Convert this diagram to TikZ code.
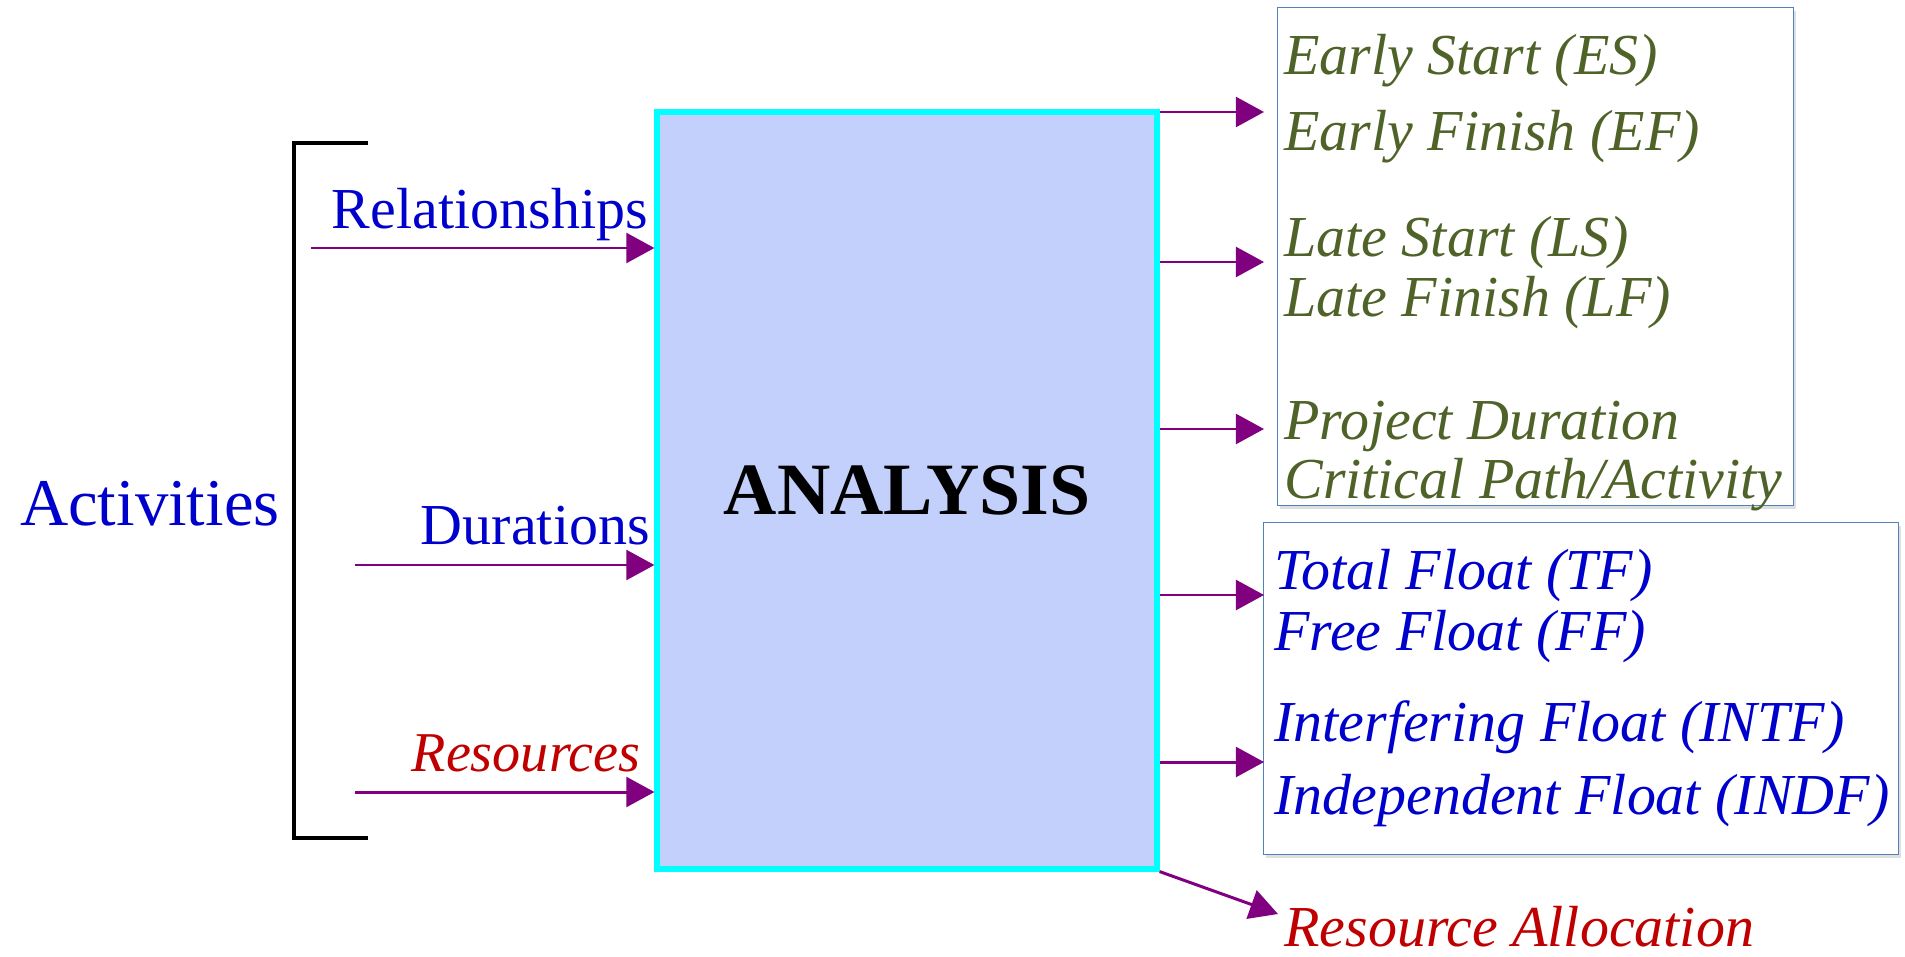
\documentclass[tikz,border=0pt]{standalone}
\usepackage{fontspec}
\setmainfont{Liberation Serif}
\usetikzlibrary{arrows.meta,positioning,shadows}

\definecolor{inblue}{RGB}{0,0,204}
\definecolor{outgreen}{RGB}{79,98,40}
\definecolor{resred}{RGB}{192,0,0}
\definecolor{flowpurple}{RGB}{128,0,128}
\definecolor{boxfill}{RGB}{196,208,252}
\definecolor{boxline}{RGB}{79,129,189}
\definecolor{anaborder}{RGB}{0,255,255}

\tikzset{
  flow/.style={draw=flowpurple, line width=1.7pt, -{Triangle[length=16pt,width=17pt]}},
  outbox/.style={draw=boxline, line width=0.8pt, fill=white, anchor=north west,
    drop shadow={opacity=0.25, shadow xshift=1.5pt, shadow yshift=-2pt}},
  intext/.style={font=\fontsize{33}{39}\selectfont, inner sep=0pt, anchor=base east},
  outtext/.style={font=\fontsize{33}{40}\selectfont\itshape, inner sep=0pt, anchor=base west}
}

\begin{document}
\begin{tikzpicture}[x=0.02cm, y=-0.02cm]
\useasboundingbox (0,0) rectangle (1905,956);

% analysis block
\node[draw=anaborder, line width=3pt, fill=boxfill, minimum width=10cm, minimum height=15.14cm,
      font=\fontsize{42}{50}\selectfont\bfseries] (ana) at (907,490.5) {ANALYSIS};

% inputs
\draw[line width=2.8pt] (368,143) -| (294,838) -- (368,838);
\node[anchor=base east, inner sep=0pt, text=inblue, font=\fontsize{38}{45}\selectfont] (act) at (280,525) {Activities};

\coordinate (rel_in) at (311,248);
\coordinate (dur_in) at (355,565);
\coordinate (res_in) at (355,792);
\node[intext, text=inblue] (rel) at (648,228) {Relationships};
\node[intext, text=inblue] (dur) at (650,544) {Durations};
\node[intext, text=resred, font=\fontsize{32}{38}\selectfont\itshape] (res) at (641,771) {Resources};
\path (rel_in) edge[flow] (rel_in -| ana.west)
      (dur_in) edge[flow] (dur_in -| ana.west)
      (res_in) edge[flow] (res_in -| ana.west);

% outputs
\node[outbox, minimum width=10.32cm, minimum height=9.96cm] (times) at (1277,7) {};
\node[outbox, minimum width=12.7cm, minimum height=6.64cm] (floats) at (1263,522) {};

\node[outtext, text=outgreen] (es) at (1284,75) {Early Start (ES)};
\node[outtext, text=outgreen] (ef) at (1284,151) {Early Finish (EF)};
\node[outtext, text=outgreen] (ls) at (1284,256) {Late Start (LS)};
\node[outtext, text=outgreen] (lf) at (1284,316) {Late Finish (LF)};
\node[outtext, text=outgreen] (pd) at (1284,439) {Project Duration};
\node[outtext, text=outgreen] (cp) at (1284,498) {Critical Path/Activity};
\node[outtext, text=inblue] (tf) at (1274,589) {Total Float (TF)};
\node[outtext, text=inblue] (ff) at (1274,650) {Free Float (FF)};
\node[outtext, text=inblue] (intf) at (1274,741) {Interfering Float (INTF)};
\node[outtext, text=inblue] (indf) at (1274,814) {Independent Float (INDF)};
\node[outtext, text=resred] (alloc) at (1284,946) {Resource Allocation};

\coordinate (es_out) at (1264,112);
\coordinate (ls_out) at (1264,262);
\coordinate (pd_out) at (1264,429);
\coordinate (tf_out) at (1264,595);
\coordinate (intf_out) at (1264,762);
\coordinate (alloc_out) at (1278,914);
\path (es_out -| ana.east) edge[flow] (es_out)
      (ls_out -| ana.east) edge[flow] (ls_out)
      (pd_out -| ana.east) edge[flow] (pd_out)
      (tf_out -| ana.east) edge[flow] (tf_out)
      (intf_out -| ana.east) edge[flow] (intf_out)
      (ana.south east) edge[flow] (alloc_out);
\end{tikzpicture}
\end{document}
